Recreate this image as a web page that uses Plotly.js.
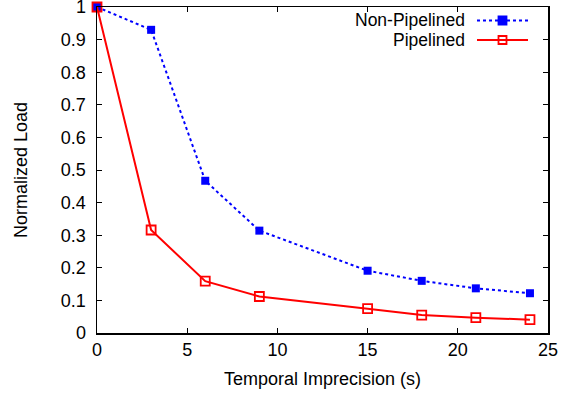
<!DOCTYPE html>
<html>
<head>
<meta charset="utf-8">
<script src="https://cdn.plot.ly/plotly-3.0.1.min.js"></script>
<style>html,body{margin:0;padding:0;background:#fff;}#chart{width:572px;height:396px;}</style>
</head>
<body>
<div id="chart"></div>
<script>
const xValues = [0, 3, 6, 9, 15, 18, 21, 24];
const nonPipelined = [1.0, 0.930, 0.467, 0.314, 0.191, 0.160, 0.137, 0.122];
const pipelined = [1.0, 0.316, 0.159, 0.112, 0.0745, 0.055, 0.047, 0.041];
const seriesNames = ["Non-Pipelined", "Pipelined"];

const FONT = "Liberation Sans, Arial, Helvetica, sans-serif";
const FS = 18;
const TOP = 7, PH = 326, PW = 451, LEFT = 97;

const traces = [
  {
    x: xValues, y: nonPipelined, name: seriesNames[0], type: "scatter", mode: "lines+markers",
    line: {color: "#0000ff", width: 2, dash: "dot"},
    marker: {symbol: "square", size: 8, color: "#0000ff"},
    cliponaxis: false
  },
  {
    x: xValues, y: pipelined, name: seriesNames[1], type: "scatter", mode: "lines+markers",
    line: {color: "#ff0000", width: 2},
    marker: {symbol: "square-open", size: 9, color: "#ff0000", line: {width: 1.8}},
    cliponaxis: false
  }
];

// legend drawn gnuplot-style (text left, sample right)
const legendRows = [
  {text: seriesNames[0], y: 20.5, color: "#0000ff", dash: "dot", filled: true},
  {text: seriesNames[1], y: 40, color: "#ff0000", dash: "solid", filled: false}
];
const annotations = [];
const shapes = [];
legendRows.forEach(r => {
  const cy = 1 - (r.y - TOP) / PH;
  annotations.push({
    xref: "paper", yref: "paper", x: (466 - LEFT) / PW, y: cy,
    xanchor: "right", yanchor: "middle", showarrow: false, text: r.text, borderpad: 0,
    font: {family: FONT, size: 17.5, color: "#000"}
  });
  shapes.push({
    type: "line", xref: "paper", yref: "paper",
    x0: (477 - LEFT) / PW, x1: (528 - LEFT) / PW, y0: cy, y1: cy,
    line: {color: r.color, width: 2, dash: r.dash}
  });
  const cx = (502.5 - LEFT) / PW;
  const hw = 4 / PW, hh = 4 / PH;
  shapes.push({
    type: "rect", xref: "paper", yref: "paper",
    x0: cx - hw, x1: cx + hw, y0: cy - hh, y1: cy + hh,
    line: {color: r.color, width: 1.8},
    fillcolor: r.filled ? r.color : "rgba(0,0,0,0)"
  });
});

const layout = {
  width: 572, height: 396,
  margin: {l: LEFT, r: 572 - LEFT - PW, t: TOP, b: 396 - TOP - PH, pad: 0},
  paper_bgcolor: "#fff", plot_bgcolor: "#fff",
  showlegend: false,
  font: {family: FONT, size: FS, color: "#000"},
  xaxis: {
    range: [0, 25], tick0: 0, dtick: 5, ticks: "inside", ticklen: 5, tickwidth: 1, tickcolor: "#000",
    showline: true, linecolor: "#000", linewidth: 1.5, mirror: "ticks", showgrid: false, zeroline: false,
    tickfont: {family: FONT, size: FS}, ticklabeloverflow: "allow",
    title: {text: "Temporal Imprecision (s)", font: {family: FONT, size: FS}, standoff: 13}
  },
  yaxis: {
    range: [0, 1], tick0: 0, dtick: 0.1, ticks: "inside", ticklen: 5, tickwidth: 1, tickcolor: "#000",
    showline: true, linecolor: "#000", linewidth: 1.5, mirror: "ticks", showgrid: false, zeroline: false,
    tickfont: {family: FONT, size: FS}, ticklabeloverflow: "allow", ticklabelstandoff: 6,
    tickformat: "~g",
    title: {text: "Normalized Load", font: {family: FONT, size: FS}, standoff: 28}
  },
  annotations: annotations,
  shapes: shapes
};

Plotly.newPlot("chart", traces, layout, {displayModeBar: false, staticPlot: true});
</script>
</body>
</html>
